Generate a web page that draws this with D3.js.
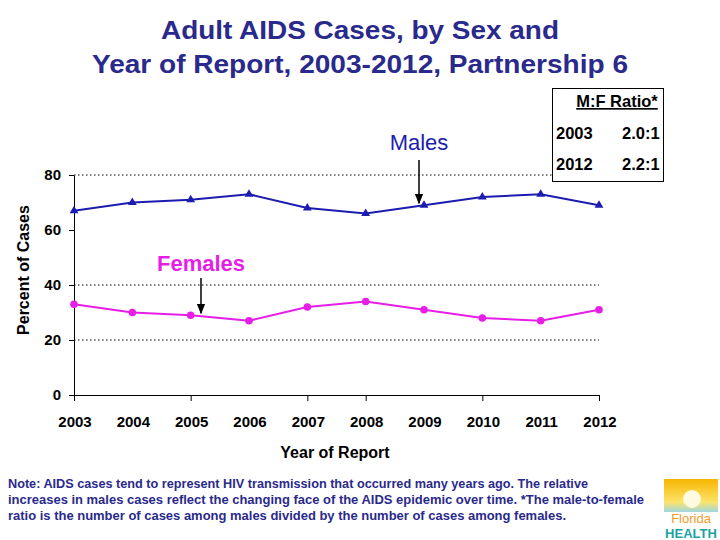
<!DOCTYPE html>
<html><head><meta charset="utf-8">
<script src="https://cdn.jsdelivr.net/npm/d3@7"></script>
<style>body{margin:0;background:#fff}svg{display:block;font-family:Arial,"Liberation Sans",sans-serif}</style>
</head><body><svg id="c" width="720" height="540"></svg>
<script>
const years = [2003,2004,2005,2006,2007,2008,2009,2010,2011,2012];
const males = [67,70,71,73,68,66,69,72,73,69];
const females = [33,30,29,27,32,34,31,28,27,31];
const yTicks = [0,20,40,60,80];
const gridValues = [20,40,80];
const xTickMarks = [2003,2005,2007,2008,2010,2012];
const ratioRows = [["2003","2.0:1"],["2012","2.2:1"]];
const titleLines = ["Adult AIDS Cases, by Sex and","Year of Report, 2003-2012, Partnership 6"];
const noteLines = [
 "Note: AIDS cases tend to represent HIV transmission that occurred many years ago.  The relative",
 "increases in males cases reflect the changing face of the AIDS epidemic over time. *The male-to-female",
 "ratio is the number of cases among males divided by the number of cases among females."
];

const svg = d3.select("#c");
const x = d3.scaleLinear().domain([2003,2012]).range([74,599]);
const y = d3.scaleLinear().domain([0,80]).range([395,175]);
const navy = "#2a2a8c";

// title
svg.append("g").selectAll("text").data(titleLines).join("text")
 .attr("x",360).attr("y",(d,i)=>39+i*34).attr("text-anchor","middle").attr("font-size",26).attr("font-weight","bold").attr("fill",navy)
 .attr("textLength",(d,i)=>[398,536][i]).attr("lengthAdjust","spacingAndGlyphs").text(d=>d);

// grid
svg.append("g").selectAll("line").data(gridValues).join("line")
 .attr("x1",x(2003)).attr("x2",x(2012)).attr("y1",d=>y(d)).attr("y2",d=>y(d))
 .attr("stroke","#000").attr("stroke-width",1).attr("stroke-dasharray","1.5,2.5");

// y axis
const ya = svg.append("g").attr("transform",`translate(${x(2003)},0)`)
 .call(d3.axisLeft(y).tickValues(yTicks).tickSize(5).tickPadding(8).tickSizeOuter(0));
ya.select(".domain").attr("stroke","#000");
ya.selectAll("text").attr("font-size",15).attr("font-weight","bold").attr("font-family","Arial, Liberation Sans, sans-serif");

// x axis
const xa = svg.append("g").attr("transform",`translate(0,${y(0)})`)
 .call(d3.axisBottom(x).tickValues(xTickMarks).tickSize(6).tickSizeOuter(0).tickFormat(""));
xa.select(".domain").attr("stroke","#000");
svg.append("g").selectAll("text").data(years).join("text")
 .attr("x",d=>x(d)+1).attr("y",427).attr("text-anchor","middle")
 .attr("font-size",15).attr("font-weight","bold").text(d=>d);

svg.append("text").attr("x",335).attr("y",458).attr("text-anchor","middle").attr("font-size",16).attr("font-weight","bold").text("Year of Report");
svg.append("text").attr("transform","translate(29,270) rotate(-90)").attr("text-anchor","middle").attr("font-size",16).attr("font-weight","bold").text("Percent of Cases");

// lines
const line = d3.line().x((d,i)=>x(years[i])).y(d=>y(d));
const mColor = "#1c1cb0", fColor = "#e61ee6";
svg.append("path").datum(males).attr("d",line).attr("fill","none").attr("stroke",mColor).attr("stroke-width",2);
svg.append("path").datum(females).attr("d",line).attr("fill","none").attr("stroke",fColor).attr("stroke-width",2);
const tri = d3.symbol().type(d3.symbolTriangle).size(34);
svg.append("g").selectAll("path").data(males).join("path")
 .attr("transform",(d,i)=>`translate(${x(years[i])},${y(d)})`).attr("d",tri).attr("fill",mColor);
svg.append("g").selectAll("circle").data(females).join("circle")
 .attr("cx",(d,i)=>x(years[i])).attr("cy",d=>y(d)).attr("r",3.8).attr("fill",fColor);

// annotations
svg.append("defs").append("marker").attr("id","ah").attr("viewBox","0 0 10 10").attr("refX",9).attr("refY",5)
 .attr("markerWidth",7).attr("markerHeight",7).attr("orient","auto")
 .append("path").attr("d","M0,1 L10,5 L0,9 z").attr("fill","#000");
svg.append("text").attr("x",419).attr("y",150).attr("text-anchor","middle").attr("font-size",22).attr("fill",mColor).text("Males");
svg.append("line").attr("x1",419).attr("y1",160).attr("x2",419).attr("y2",y(69)-2).attr("stroke","#000").attr("stroke-width",1.5).attr("marker-end","url(#ah)");
svg.append("text").attr("x",201).attr("y",271).attr("text-anchor","middle").attr("font-size",22).attr("font-weight","bold").attr("fill",fColor).text("Females");
svg.append("line").attr("x1",201).attr("y1",278).attr("x2",201).attr("y2",y(29)-2).attr("stroke","#000").attr("stroke-width",1.5).attr("marker-end","url(#ah)");

// ratio box
svg.append("rect").attr("x",552.5).attr("y",88.5).attr("width",111).attr("height",93).attr("fill","#fff").attr("stroke","#000");
svg.append("text").attr("x",617).attr("y",107).attr("text-anchor","middle").attr("font-size",16.5).attr("font-weight","bold").attr("text-decoration","underline").text("M:F Ratio*");
ratioRows.forEach((r,i)=>{
 svg.append("text").attr("x",556).attr("y",139+i*31).attr("font-size",16.5).attr("font-weight","bold").text(r[0]);
 svg.append("text").attr("x",622).attr("y",139+i*31).attr("font-size",16.5).attr("font-weight","bold").text(r[1]);
});

// note
svg.append("g").selectAll("text").data(noteLines).join("text")
 .attr("x",8).attr("y",(d,i)=>488+i*16).attr("font-size",12).attr("font-weight","bold").attr("fill",navy)
 .attr("textLength",(d,i)=>[580,636,558][i]).attr("lengthAdjust","spacingAndGlyphs").text(d=>d);

// logo
const defs = svg.select("defs");
const g1 = defs.append("linearGradient").attr("id","sun").attr("x1",0).attr("y1",0).attr("x2",0).attr("y2",1);
g1.append("stop").attr("offset","0").attr("stop-color","#f7b500");
g1.append("stop").attr("offset","0.7").attr("stop-color","#fde36a");
g1.append("stop").attr("offset","1").attr("stop-color","#9fd7e0");
svg.append("rect").attr("x",664).attr("y",479).attr("width",54).attr("height",33).attr("fill","url(#sun)");
svg.append("circle").attr("cx",692).attr("cy",499).attr("r",9).attr("fill","#fffbe0");
svg.append("text").attr("x",691).attr("y",523).attr("text-anchor","middle").attr("font-size",13).attr("fill","#f29a1f").text("Florida");
svg.append("text").attr("x",691).attr("y",538).attr("text-anchor","middle").attr("font-size",13).attr("font-weight","bold").attr("fill","#1aa3a3").text("HEALTH");
</script></body></html>
